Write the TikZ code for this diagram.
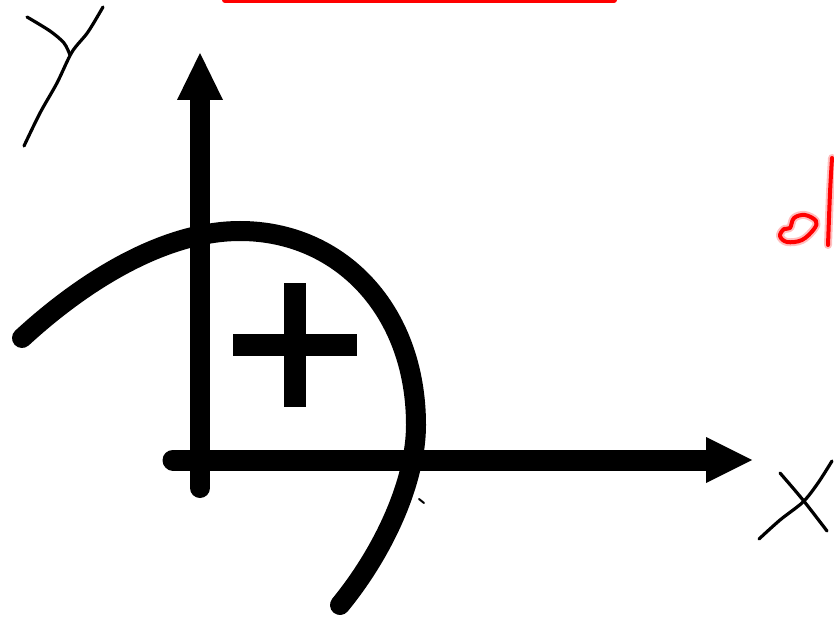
\documentclass[tikz,border=0pt]{standalone}
\begin{document}
\begin{tikzpicture}[x=1pt,y=-1pt,
  thick axis/.style={line width=21pt,line cap=round},
  headtri/.style={fill=black},
  hand/.style={line width=3.2pt,line cap=round,line join=round},
  redglow/.style={line width=8pt,color=red!25,line cap=round,line join=round},
  redink/.style={line width=4pt,color=red,line cap=round,line join=round}]
\useasboundingbox (0,0) rectangle (834,628);
% red box at top (mostly cut off)
\fill[red,rounded corners=3pt] (222,-30) rectangle (617,3);
% axes
\coordinate (ybot) at (200,488);
\coordinate (ytop) at (200,100);
\coordinate (xl) at (173,460);
\coordinate (xr) at (706,460);
\draw[thick axis,line width=20pt] (ybot) -- (ytop);
\fill[headtri] (177,100) -- (223,100) -- (200,53) -- cycle;
\draw[thick axis] (xl) -- (xr);
\fill[headtri] (706,437) -- (706,483) -- (752,460) -- cycle;
% curve
\coordinate (c0) at (22,338);
\coordinate (c1) at (240,231);
\coordinate (c2) at (416,425);
\coordinate (c3) at (340,605);
\draw[line width=20pt,line cap=round] (c0) .. controls (85,280) and (165,231) .. (c1)
  .. controls (340,231) and (416,310) .. (c2)
  .. controls (416,480) and (385,550) .. (c3);
% plus sign
\fill (233,334) rectangle (357,356);
\fill (284,283) rectangle (306,407);
% small mark
\draw[line width=2pt,line cap=round] (419,499) -- (424,503);
% handwritten Y
\draw[hand] plot[smooth] coordinates {(27,17) (50,31) (64,43) (70,55)};
\draw[hand] plot[smooth] coordinates {(103,7) (88,32) (72,52) (57,83) (40,113) (24,146)};
% handwritten X
\draw[hand] plot[smooth] coordinates {(780,473) (803,500) (827,531)};
\draw[hand] plot[smooth] coordinates {(832,461) (818,483) (803,502) (780,520) (759,539)};
% red handwriting at right edge
\foreach \st in {redglow,redink}{
  \draw[\st] plot[smooth cycle,tension=0.6] coordinates {(790,228) (794,218) (805,215) (816,221) (814,229) (802,240) (787,242) (780,236) (784,229)};
  \draw[\st] (832,158) .. controls (830,190) .. (828,245);
}
\end{tikzpicture}
\end{document}
